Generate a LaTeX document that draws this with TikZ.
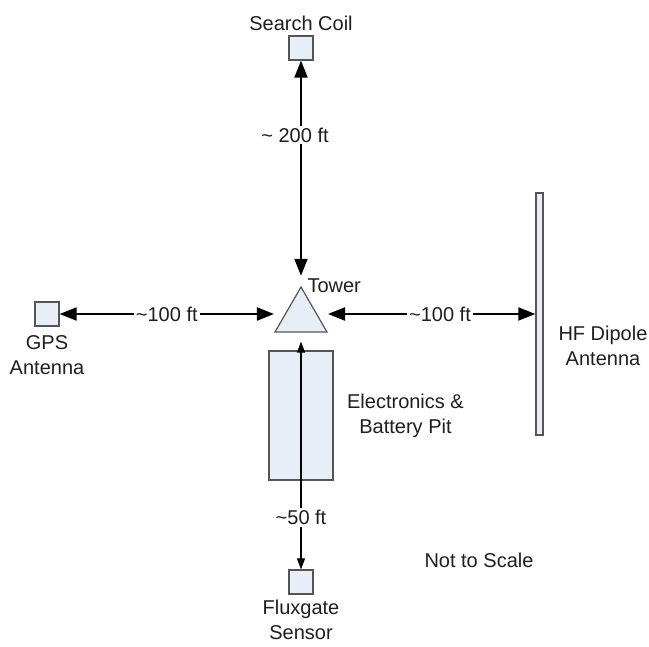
\documentclass[tikz,border=0pt]{standalone}
\usepackage{fontspec}
\setmainfont{Liberation Sans}
\usetikzlibrary{shapes.geometric,arrows.meta,positioning}

\definecolor{boxfill}{RGB}{232,238,248}
\definecolor{boxline}{RGB}{85,85,85}
\definecolor{labeltext}{RGB}{30,30,30}

\begin{document}
\begin{tikzpicture}[x=1pt, y=-1pt, font=\fontsize{20}{25}\selectfont]
  % Styles for boxes, arrows and labels
  \tikzset{sensorbox/.style={draw=boxline, fill=boxfill, line width=1.2pt, minimum size=24pt, inner sep=0pt}}
  \tikzset{sitebox/.style={draw=boxline, fill=boxfill, line width=1.2pt, inner sep=0pt}}
  \tikzset{distarrow/.style={{Triangle[length=17pt,width=13pt]}-{Triangle[length=17pt,width=13pt]}, line width=2pt}}
  \tikzset{thinarrow/.style={{Triangle[length=11pt,width=8pt]}-{Triangle[length=11pt,width=8pt]}, line width=1.1pt}}
  \tikzset{distlabel/.style={fill=white, inner sep=2pt, text=labeltext}}
  \tikzset{caption/.style={text=labeltext, align=center}}

  \useasboundingbox (0,0) rectangle (649,647);

  % Tower
  \node[sitebox, regular polygon, regular polygon sides=3, minimum size=60pt] (tower) at (301,317) {};
  \node[caption, right=3pt of tower.corner 1] (towerlabel) {Tower};

  % Search coil
  \node[sensorbox] (coil) at (301,48) {};
  \node[caption, above=1pt of coil] (coillabel) {Search Coil};

  % GPS antenna
  \node[sensorbox] (gps) at (47,314) {};
  \node[caption, below=5pt of gps] (gpslabel) {GPS\\Antenna};

  % HF dipole
  \node[sitebox, minimum width=7pt, minimum height=242pt] (dipole) at (539.5,314) {};
  \node[caption] (dipolelabel) at (603,346) {HF Dipole\\Antenna};

  % Electronics pit
  \node[sitebox, minimum width=64pt, minimum height=129pt] (pit) at (301,415.5) {};
  \node[caption, right=10pt of pit] (pitlabel) {Electronics \&\\Battery Pit};

  % Fluxgate
  \node[sensorbox] (flux) at (301,582) {};
  \node[caption, below=2pt of flux] (fluxlabel) {Fluxgate\\Sensor};

  % Distances
  \draw[distarrow, shorten >=10pt] (coil.south) -- (tower.corner 1)
    node[distlabel, pos=0.33, xshift=-6pt] {\textasciitilde{} 200 ft};
  \draw[distarrow] (gps.east) -- (tower.corner 2 |- gps.east)
    node[distlabel, midway] {\textasciitilde100 ft};
  \draw[distarrow] (tower.corner 3 |- gps.east) -- (dipole.west)
    node[distlabel, pos=0.54] {\textasciitilde100 ft};
  \draw[thinarrow, shorten <=9pt] (tower.south) -- (flux.north)
    node[distlabel, pos=0.78] {\textasciitilde50 ft};

  \node[caption] (scalenote) at (479,560) {Not to Scale};
\end{tikzpicture}
\end{document}
